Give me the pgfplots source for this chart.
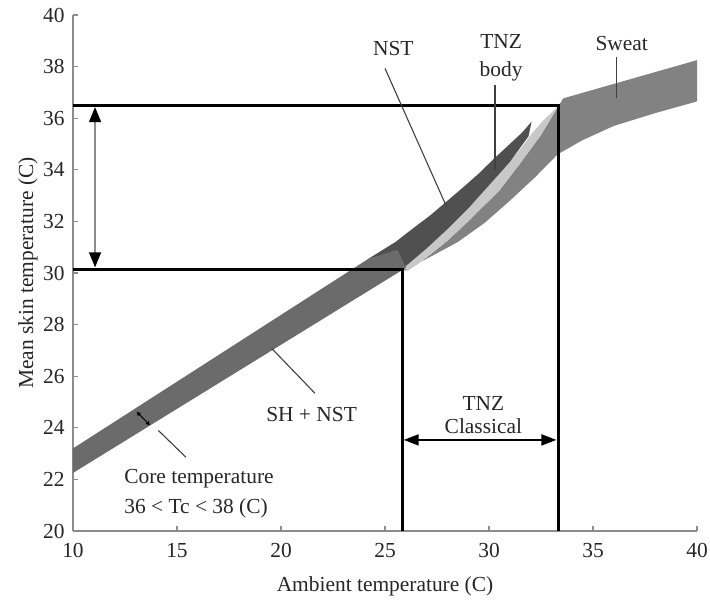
\documentclass[border=0pt]{standalone}
\usepackage{fontspec}
\setmainfont{Liberation Serif}
\usepackage{pgfplots}
\pgfplotsset{compat=1.18}
\usetikzlibrary{arrows.meta}

\definecolor{shband}{HTML}{6B6B6B}
\definecolor{nst}{HTML}{505050}
\definecolor{tnzbody}{HTML}{C8C8C8}
\definecolor{sweat}{HTML}{828282}
\definecolor{axisgray}{HTML}{8C8C8C}
\definecolor{txt}{HTML}{262626}
\definecolor{pointer}{HTML}{404040}

\begin{document}
\begin{tikzpicture}[font=\fontsize{21.5}{24}\selectfont]
\begin{axis}[
  scale only axis, width=624bp, height=516bp,
  xmin=10, xmax=40, ymin=20, ymax=40,
  axis x line*=bottom, axis y line*=left,
  axis line style={axisgray, line width=1.6bp},
  xtick={10,15,...,40}, ytick={20,22,...,40},
  tick align=inside, major tick length=5bp,
  tick style={axisgray, line width=1.2bp},
  /pgf/number format/assume math mode=true,
  ticklabel style={font=\fontsize{21.5}{24}\selectfont, text=txt},
  xticklabel style={yshift=-9bp},
  yticklabel style={xshift=-5bp},
  xlabel={Ambient temperature (C)},
  ylabel={Mean skin temperature (C)},
  label style={font=\fontsize{21.5}{24}\selectfont, text=txt},
  xlabel style={at={(axis description cs:0.5,-0.1066)}, anchor=center},
  ylabel style={at={(axis description cs:-0.0720,0.5)}, anchor=center},
  clip=false,
]
\coordinate (bl) at (rel axis cs:0,0);
\coordinate (tr) at (rel axis cs:1,1);

% sweating branch (right-hand band)
\addplot[fill=sweat, draw=none] coordinates {
  (26.1,30.1) (27,30.6) (28,31.25) (29,32.0) (30,32.8) (30.5,33.2)
  (31.5,34.25) (32.5,35.35) (33.3,36.42) (33.57,36.77) (40,38.25)
  (40,36.65) (38,36.2) (36,35.7) (34.5,35.15) (33.3,34.6) (32.2,33.7)
  (31,32.8) (29.8,31.95) (28.5,31.2) (27,30.55) (25.8,30.1)} -- cycle;

% thermoneutral zone of the body (light strip)
\addplot[fill=tnzbody, draw=none] coordinates {
  (25.9,30.2) (27,30.95) (28,31.7) (29,32.5) (30,33.4) (31,34.3)
  (31.6,34.9) (32.05,35.4) (32.6,35.9) (33.3,36.45)
  (32.5,35.35) (31.5,34.25) (30.5,33.2) (30,32.8) (29,32.0)
  (28,31.25) (27,30.6) (26.1,30.1)} -- cycle;

% non-shivering thermogenesis
\addplot[fill=nst, draw=none] coordinates {
  (24.2,30.55) (25.0,30.95) (25.5,31.2) (26.3,31.7) (27.2,32.25)
  (28.0,32.8) (28.8,33.35) (29.5,33.85) (30.2,34.4) (31.0,35.0)
  (31.6,35.45) (32.05,35.87) (31.9,35.3) (31,34.3) (30,33.4)
  (29,32.5) (28,31.7) (27,30.95) (25.9,30.2)} -- cycle;

% shivering + NST band
\addplot[fill=shband, draw=none] coordinates {
  (10,22.25) (25.8,30.1) (26.0,30.2) (25.6,30.9) (24.2,30.55) (10,23.2)} -- cycle;

% thermoneutral zone limits
\addplot[black, line width=3bp] coordinates {(10,30.15) (25.82,30.15) (25.82,20)};
\addplot[black, line width=3bp] coordinates {(10,36.5) (33.32,36.5) (33.32,20)};

% skin temperature range
\addplot[draw=axisgray, line width=1.4bp,
  {Triangle[length=15bp,width=12bp,color=black]}-{Triangle[length=15bp,width=12bp,color=black]}]
  coordinates {(11.06,36.43) (11.06,30.22)};

% classical TNZ width
\addplot[black, line width=1.8bp,
  {Triangle[length=15bp,width=11bp]}-{Triangle[length=15bp,width=11bp]}]
  coordinates {(25.9,23.53) (33.24,23.53)};

% core temperature span marker
\addplot[black, line width=1bp,
  {Triangle[length=4bp,width=4bp]}-{Triangle[length=4bp,width=4bp]}]
  coordinates {(13.06,24.62) (13.7,24.1)};

% label pointers
\addplot[pointer, line width=1.1bp] coordinates {(25.0,37.93) (27.96,32.57)};
\addplot[pointer, line width=1.1bp] coordinates {(30.29,37.29) (30.29,34.0)};
\addplot[pointer, line width=1.1bp] coordinates {(36.14,38.38) (36.14,36.77)};
\addplot[pointer, line width=1.1bp] coordinates {(19.55,27.08) (21.63,25.34)};
\addplot[pointer, line width=1.1bp] coordinates {(14.1,23.9) (15.43,22.86)};

\node[text=txt] at (axis cs:25.4,38.72) {NST};
\node[text=txt] at (axis cs:30.58,38.97) {TNZ};
\node[text=txt] at (axis cs:30.58,37.8) {body};
\node[text=txt] at (axis cs:36.38,38.9) {Sweat};
\node[text=txt] at (axis cs:21.47,24.5) {SH + NST};
\node[text=txt] at (axis cs:29.73,24.95) {TNZ};
\node[text=txt] at (axis cs:29.73,24.08) {Classical};
\node[text=txt, anchor=west] at (axis cs:12.3,22.04) {Core temperature};
\node[text=txt, anchor=west] at (axis cs:12.3,20.88) {36 < Tc < 38 (C)};
\end{axis}
\pgfresetboundingbox
\path ([shift={(-73bp,-73bp)}]bl) rectangle ([shift={(13bp,15bp)}]tr);
\end{tikzpicture}
\end{document}
